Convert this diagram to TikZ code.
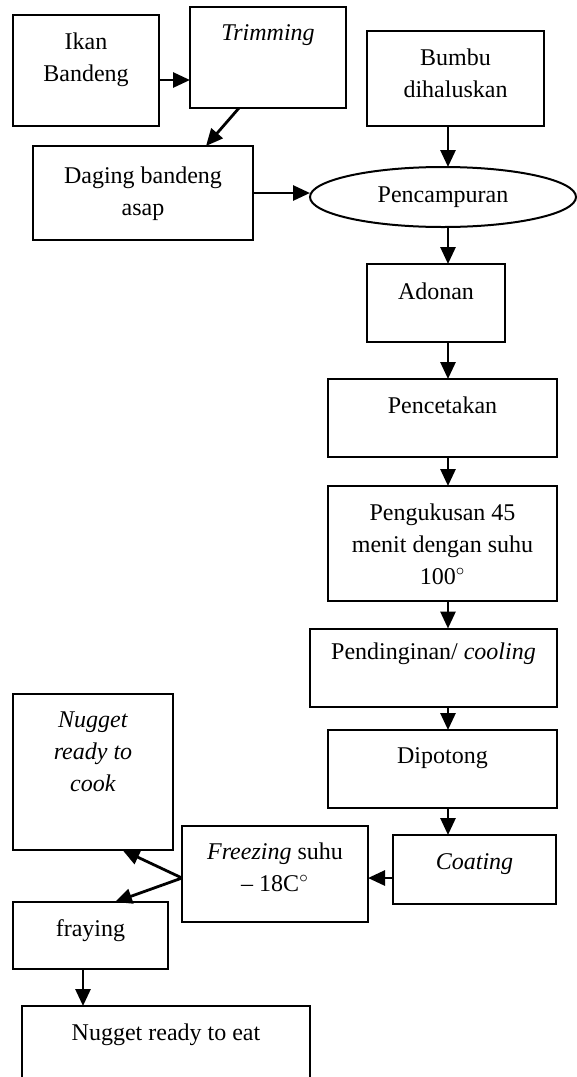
\documentclass[tikz,border=0pt]{standalone}
\usepackage{fontspec}
\setmainfont{Liberation Serif}
\usepackage{tikz}
\usetikzlibrary{shapes.geometric,arrows.meta,positioning}

\tikzset{
  box/.style={draw, line width=1pt, inner sep=0pt, outer sep=0pt},
  txt/.style={align=center, inner sep=0pt, font=\fontsize{12}{16}\selectfont},
  arr/.style={line width=1.4pt, -{Triangle[length=8.5pt,width=7.5pt]}}
}

\begin{document}
\begin{tikzpicture}[x=0.5pt,y=-0.5pt]
\useasboundingbox (0,0) rectangle (577,1077);
\coordinate (axis) at (448,0);

% Top row left to right
\node[box, minimum width=73pt, minimum height=55.5pt] (ikan) at (86,70.5) {};
\node[txt, below=8.8pt of ikan.north] (ikan-t) {Ikan\\Bandeng};
\node[box, minimum width=78pt, minimum height=50.5pt] (trim) at (268,57.5) {};
\node[txt, below=8.8pt of trim.north] (trim-t) {\textit{Trimming}};
\node[box, minimum width=88.5pt, minimum height=47.5pt] (bumbu) at (455.5,78.5) {};
\node[txt, below=8.8pt of bumbu.north] (bumbu-t) {Bumbu\\dihaluskan};

% Second row
\node[box, minimum width=110pt, minimum height=47pt] (daging) at (143,193) {};
\node[txt, below=10pt of daging.north] (daging-t) {Daging bandeng\\asap};
\node[box, txt, ellipse, minimum width=133pt, minimum height=30pt] (pcm) at (443,197) {Pencampuran};

% Right column top to bottom
\node[box, minimum width=69pt, minimum height=39pt] (adonan) at (436,303) {};
\node[txt, below=9pt of adonan.north] (adonan-t) {Adonan};
\node[box, minimum width=114.5pt, minimum height=39pt] (cetak) at (442.5,418) {};
\node[txt, below=8.8pt of cetak.north] (cetak-t) {Pencetakan};
\node[box, minimum width=114.5pt, minimum height=57.5pt] (kukus) at (442.5,543.5) {};
\node[txt, below=8.5pt of kukus.north] (kukus-t) {Pengukusan 45\\menit dengan suhu\\100$^\circ$};
\node[box, minimum width=123.5pt, minimum height=39pt] (dingin) at (433.5,667.5) {};
\node[txt, below=7pt of dingin.north] (dingin-t) {Pendinginan/ \textit{cooling}};
\node[box, minimum width=114.5pt, minimum height=39pt] (potong) at (442.5,769) {};
\node[txt, below=8.5pt of potong.north] (potong-t) {Dipotong};
\node[box, minimum width=81.5pt, minimum height=34.5pt] (coat) at (474.5,869.5) {};
\node[txt, below=9pt of coat.north] (coat-t) {\textit{Coating}};

% Bottom left
\node[box, minimum width=93pt, minimum height=48pt] (freeze) at (275,874) {};
\node[txt, below=8pt of freeze.north] (freeze-t) {\textit{Freezing} suhu\\\textendash{} 18C$^\circ$};
\node[box, minimum width=80pt, minimum height=78pt] (cook) at (93,772) {};
\node[txt, below=8.5pt of cook.north] (cook-t) {\textit{Nugget}\\\textit{ready to}\\\textit{cook}};
\node[box, minimum width=77.5pt, minimum height=33.5pt] (fry) at (90.5,935.5) {};
\node[txt, below=8.5pt of fry.north] (fry-t) {fraying};
\node[box, minimum width=144pt, minimum height=50pt] (eat) at (166,1056) {};
\node[txt, below=8.5pt of eat.north] (eat-t) {Nugget ready to eat};

% Arrows
\coordinate (a1) at ([yshift=-4.75pt]ikan.east);
\draw[arr] (a1) -- (a1 -| trim.west);
\draw[arr] ([xshift=-14.5pt]trim.south) -- ([xshift=31.5pt]daging.north);
\draw[arr] (daging.east) -- (daging.east -| pcm.west);
\draw[arr] (bumbu.south -| axis) -- (pcm.north -| axis);
\draw[arr] (pcm.south -| axis) -- (adonan.north -| axis);
\draw[arr] (adonan.south -| axis) -- (cetak.north -| axis);
\draw[arr] (cetak.south -| axis) -- (kukus.north -| axis);
\draw[arr] (kukus.south -| axis) -- (dingin.north -| axis);
\draw[arr] (dingin.south -| axis) -- (potong.north -| axis);
\draw[arr] (potong.south -| axis) -- (coat.north -| axis);
\coordinate (a2) at ([yshift=-4.25pt]coat.west);
\draw[arr] (a2) -- (a2 -| freeze.east);
\coordinate (a3) at ([yshift=-2pt]freeze.west);
\draw[arr] (a3) -- ([xshift=14.75pt]cook.south);
\draw[arr] (a3) -- ([xshift=12.25pt]fry.north);
\coordinate (a4) at ([xshift=-3.75pt]fry.south);
\draw[arr] (a4) -- (a4 |- eat.north);
\end{tikzpicture}
\end{document}
